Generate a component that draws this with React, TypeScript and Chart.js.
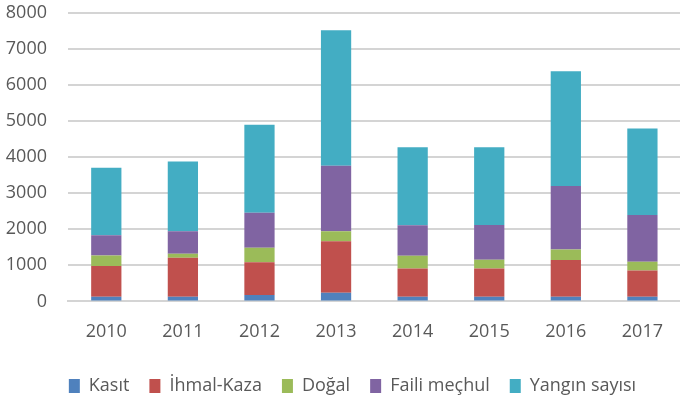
import React, { useEffect, useRef } from "react";
import { Chart, registerables } from "chart.js";

Chart.register(...registerables);

const years = ["2010", "2011", "2012", "2013", "2014", "2015", "2016", "2017"];
const kasit = [130, 130, 180, 240, 130, 130, 130, 130];
const ihmalKaza = [850, 1080, 905, 1425, 780, 780, 1015, 725];
const dogal = [290, 110, 400, 280, 355, 245, 290, 245];
const failiMechul = [565, 625, 970, 1815, 845, 960, 1760, 1295];
const yanginSayisi = [1870, 1930, 2440, 3755, 2160, 2160, 3185, 2395];
const yMax = 8000;
const yStep = 1000;

const FONT = '"Open Sans", sans-serif';
const TEXT = "#595959";

const legendShift = {
  id: "legendShift",
  afterLayout(chart: any) {
    if (chart.legend) {
      chart.legend.left += 11;
      chart.legend.right += 11;
    }
  },
};

export default function App() {
  const ref = useRef<HTMLCanvasElement | null>(null);

  useEffect(() => {
    document.body.style.margin = "0";
    const canvas = ref.current;
    if (!canvas) return;
    const mk = (label: string, data: number[], color: string) => ({
      label,
      data,
      backgroundColor: color,
      borderWidth: 0,
      barPercentage: 1,
      categoryPercentage: 0.395,
    });
    const chart = new Chart(canvas, {
      type: "bar",
      data: {
        labels: years,
        datasets: [
          mk("Kasıt", kasit, "#4F81BD"),
          mk("İhmal-Kaza", ihmalKaza, "#C0504D"),
          mk("Doğal", dogal, "#9BBB59"),
          mk("Faili meçhul", failiMechul, "#8064A2"),
          mk("Yangın sayısı", yanginSayisi, "#43ADC3"),
        ],
      },
      plugins: [legendShift],
      options: {
        animation: false,
        responsive: false,
        maintainAspectRatio: false,
        layout: { padding: { top: 0, right: 0, bottom: 0, left: 0 } },
        plugins: {
          tooltip: { enabled: false },
          legend: {
            position: "bottom",
            labels: {
              font: { family: FONT, size: 18 },
              color: TEXT,
              boxWidth: 11,
              boxHeight: 14,
              padding: 20,
            },
          },
        },
        scales: {
          x: {
            stacked: true,
            grid: { display: false, drawTicks: false },
            border: { display: true, color: "#d4d4d4", width: 2 },
            ticks: { font: { family: FONT, size: 18 }, color: TEXT, padding: 20, maxRotation: 0 },
            afterFit: (axis: any) => {
              axis.height -= 6;
            },
          },
          y: {
            stacked: true,
            min: 0,
            max: yMax,
            afterFit: (axis: any) => {
              axis.width = 68;
              axis.paddingTop = 12.7;
            },
            grid: { color: "#d4d4d4", lineWidth: 2, drawTicks: false },
            border: { display: false },
            ticks: {
              stepSize: yStep,
              font: { family: FONT, size: 18 },
              color: TEXT,
              padding: 21,
              callback: (v: any) => String(v),
            },
          },
        },
      },
    });
    return () => chart.destroy();
  }, []);

  return (
    <div style={{ width: 680, height: 405, overflow: "hidden", position: "relative" }}>
      <canvas ref={ref} width={683} height={405} style={{ display: "block", width: 683, height: 405 }} />
    </div>
  );
}
